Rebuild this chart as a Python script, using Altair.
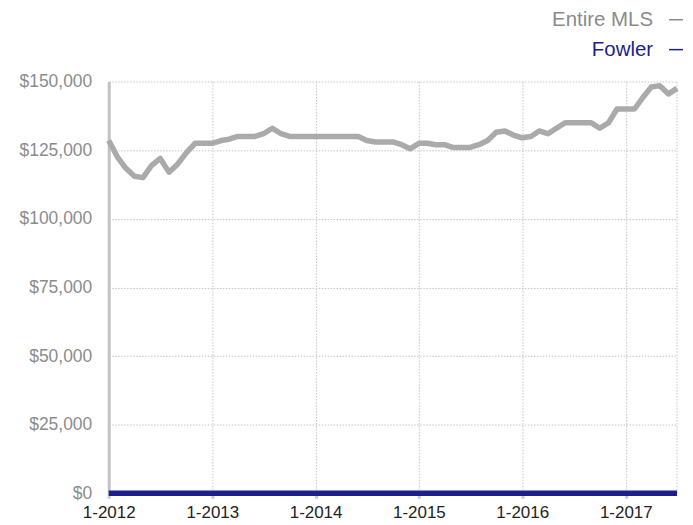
import altair as alt
import pandas as pd

# ---- data ----
start_month = "2012-01-01"
n_months = 67
series_names = ["Entire MLS", "Fowler"]
series_colors = ["#aaaaaa", "#1b1f8c"]
legend_text_colors = ["#8a8a8a", "#1b1f8c"]

entire_mls = [
    128.5, 122.5, 118.5, 115.5, 115.0, 119.5, 122.0, 117.0, 120.0, 124.0, 127.5, 127.5,
    127.5, 128.5, 129.0, 130.0, 130.0, 130.0, 131.0, 133.0, 131.0, 130.0, 130.0, 130.0,
    130.0, 130.0, 130.0, 130.0, 130.0, 130.0, 128.5, 128.0, 128.0, 128.0, 127.0, 125.5,
    127.5, 127.5, 127.0, 127.0, 126.0, 126.0, 126.0, 127.0, 128.5, 131.5, 132.0, 130.5,
    129.5, 130.0, 132.0, 131.0, 133.0, 135.0, 135.0, 135.0, 135.0, 133.0, 135.0, 140.0,
    140.0, 140.0, 144.0, 148.0, 148.5, 145.5, 147.5,
]
entire_mls = [v * 1000 for v in entire_mls]
fowler = [0] * n_months

y_ticks = [0, 25000, 50000, 75000, 100000, 125000, 150000]
x_tick_years = [2012, 2013, 2014, 2015, 2016, 2017]

dates = pd.date_range(start_month, periods=n_months, freq="MS")
df = pd.concat([
    pd.DataFrame({"date": dates, "value": entire_mls, "series": series_names[0]}),
    pd.DataFrame({"date": dates, "value": fowler, "series": series_names[1]}),
])
edge_df = pd.DataFrame({"date": [dates[-1]], "y0": [0], "y1": [y_ticks[-1]]})

FONT = "Liberation Sans"
W, H = 570, 413

x_scale = alt.Scale(domain=[alt.DateTime(year=2012, month=1, date=1),
                            alt.DateTime(year=2017, month=7, date=1)])
y_scale = alt.Scale(domain=[0, 150000], nice=False)

lines = alt.Chart(df).mark_line(strokeWidth=5.5, strokeJoin="round").encode(
    x=alt.X("date:T", scale=x_scale, title=None,
            axis=alt.Axis(values=[alt.DateTime(year=y, month=1, date=1) for y in x_tick_years],
                          format="%-m-%Y", labelFont=FONT, labelFontSize=17,
                          labelColor="#222222", labelPadding=6, domain=False,
                          tickColor="#cccccc", tickWidth=3, tickSize=5,
                          grid=True, gridColor="#c4c4c4", gridDash=[1.5, 1.5],
                          gridWidth=1, labelFlush=False)),
    y=alt.Y("value:Q", scale=y_scale, title=None,
            axis=alt.Axis(values=y_ticks, format="$,.0f", labelFont=FONT,
                          labelFontSize=17.5, labelColor="#8c8c8c", labelPadding=17,
                          ticks=False, domain=True, domainColor="#c2c2c2",
                          domainWidth=3, grid=True, gridColor="#c4c4c4",
                          gridDash=[1.5, 1.5], gridWidth=1)),
    color=alt.Color("series:N", scale=alt.Scale(domain=series_names, range=series_colors),
                    legend=None),
    order=alt.Order("series:N", sort="ascending"),
)

edge = alt.Chart(edge_df).mark_rule(color="#c4c4c4", strokeDash=[1.5, 1.5], strokeWidth=1).encode(
    x=alt.X("date:T", scale=x_scale),
    y=alt.Y("y0:Q", scale=y_scale),
    y2="y1:Q",
)

layers = [edge, lines]
for i, (name, col) in enumerate(zip(series_names, legend_text_colors)):
    ypos = -62 + 30 * i
    txt = alt.Chart(pd.DataFrame({"t": [name]})).mark_text(
        font=FONT, fontSize=20.5, align="right", baseline="middle", color=col
    ).encode(text="t:N", x=alt.value(546), y=alt.value(ypos))
    dash = alt.Chart(pd.DataFrame({"t": [name]})).mark_rule(color=col, strokeWidth=1.5).encode(
        x=alt.value(562), x2=alt.value(576), y=alt.value(ypos)
    )
    layers += [txt, dash]

chart = alt.layer(*layers).properties(
    width=W, height=H,
    autosize=alt.AutoSizeParams(type="none"),
    padding={"left": 101, "top": 73, "right": 8, "bottom": 31},
).configure_view(stroke=None)

chart.save("out.html", embed_options={"renderer": "svg", "actions": False})
